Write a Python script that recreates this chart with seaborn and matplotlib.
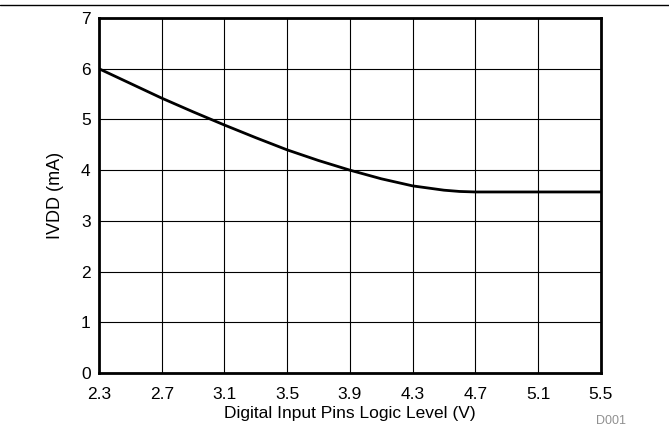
import matplotlib
matplotlib.use("Agg")
import matplotlib.pyplot as plt
import seaborn as sns
import pandas as pd
from matplotlib.lines import Line2D

voltage = [2.3, 2.5, 2.7, 2.9, 3.1, 3.3, 3.5, 3.7, 3.9, 4.1, 4.3, 4.5, 4.6, 4.7, 5.1, 5.5]
ivdd = [6.0, 5.71, 5.42, 5.15, 4.89, 4.64, 4.40, 4.19, 4.0, 3.83, 3.69, 3.605, 3.58, 3.57, 3.57, 3.57]
xticks = [2.3, 2.7, 3.1, 3.5, 3.9, 4.3, 4.7, 5.1, 5.5]
yticks = [0, 1, 2, 3, 4, 5, 6, 7]

df = pd.DataFrame({"V": voltage, "I": ivdd})

sns.set_theme(style="white")
plt.rcParams['font.family'] = ['Liberation Sans', 'DejaVu Sans']

fig = plt.figure(figsize=(6.69, 4.29), dpi=100)
ax = fig.add_axes([0.148, 0.1305, 0.75, 0.8275])
sns.lineplot(data=df, x="V", y="I", ax=ax, color="black", linewidth=2.0)

ax.set_xlim(2.3, 5.5)
ax.set_ylim(0, 7)
ax.set_xticks(xticks)
ax.set_xticklabels([f"{t:.1f}" for t in xticks])
ax.set_yticks(yticks)
ax.grid(True, color="black", linewidth=0.8)
ax.tick_params(axis="both", length=0, labelsize=12.5, colors="black")
ax.tick_params(axis="x", pad=10)
ax.tick_params(axis="y", pad=6)
for s in ax.spines.values():
    s.set_color("black")
    s.set_linewidth(2.0)
ax.set_xlabel("Digital Input Pins Logic Level (V)", fontsize=12.5, color="black", labelpad=3)
ax.set_ylabel("IVDD (mA)", fontsize=13, color="black", labelpad=12)
ax.xaxis.set_label_coords(0.508, -0.1, transform=ax.transAxes) if False else None

fig.add_artist(Line2D([0, 1], [1 - 5/429, 1 - 5/429], color="black", linewidth=1.0, transform=fig.transFigure))
fig.text(611/669, 1 - 421/429, "D001", fontsize=9, color="#909090", ha="center", va="center")

fig.savefig("out.png", dpi=100)
